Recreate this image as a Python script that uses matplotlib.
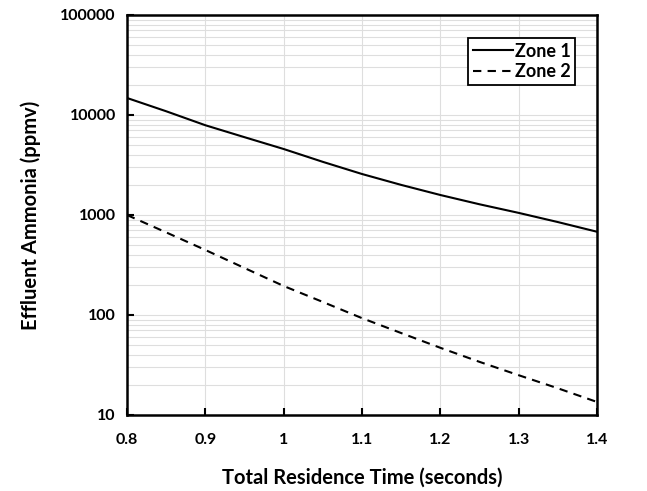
import numpy as np
import matplotlib.pyplot as plt
from matplotlib.ticker import LogLocator, FixedLocator, NullFormatter

plt.rcParams['font.family'] = ['Lato', 'DejaVu Sans']
plt.rcParams['font.weight'] = 'bold'

time_s = [0.8, 0.85, 0.9, 0.95, 1.0, 1.05, 1.1, 1.15, 1.2, 1.25, 1.3, 1.35, 1.4]
zone1 = [14800, 10900, 7900, 6000, 4570, 3400, 2570, 2000, 1585, 1280, 1050, 850, 680]
zone2 = [1000, 670, 447, 295, 195, 135, 93, 66, 47, 34, 25, 18.5, 13.5]
x_ticks = [0.8, 0.9, 1.0, 1.1, 1.2, 1.3, 1.4]
x_labels = ['0.8', '0.9', '1', '1.1', '1.2', '1.3', '1.4']
y_ticks = [10, 100, 1000, 10000, 100000]

fig = plt.figure(figsize=(6.47, 4.91), dpi=100)
ax = fig.add_axes([127 / 647, 1 - 415 / 491, 470 / 647, 400 / 491])

ax.plot(time_s, zone1, color='black', lw=1.5, label='Zone 1')
ax.plot(time_s, zone2, color='black', lw=1.5, ls=(0, (4, 3)), label='Zone 2')

ax.set_yscale('log')
ax.set_xlim(0.8, 1.4)
ax.set_ylim(10, 100000)
ax.set_xticks(x_ticks)
ax.set_xticklabels(x_labels)
ax.yaxis.set_major_locator(FixedLocator(y_ticks))
ax.set_yticklabels([str(v) for v in y_ticks])
ax.yaxis.set_minor_locator(LogLocator(base=10, subs=np.arange(2, 10)))
ax.yaxis.set_minor_formatter(NullFormatter())

ax.grid(True, which='major', color='#dedede', lw=0.8)
ax.grid(True, which='minor', axis='y', color='#dedede', lw=0.8)
ax.set_axisbelow(True)

ax.tick_params(axis='both', which='major', direction='in', length=5, width=1.5,
               labelsize=11.5, pad=8)
ax.tick_params(axis='y', which='minor', length=0)
ax.tick_params(axis='x', pad=13)
for sp in ax.spines.values():
    sp.set_linewidth(1.8)
    sp.set_color('black')

ax.set_xlabel('Total Residence Time (seconds)', fontsize=14.5, fontweight='bold', labelpad=15)
ax.set_ylabel('Effluent Ammonia (ppmv)', fontsize=14.5, fontweight='bold', labelpad=14)

leg = ax.legend(loc='upper right', bbox_to_anchor=(0.953, 0.9425), fontsize=13,
                handlelength=2.2, handletextpad=0.1, borderpad=0.25,
                labelspacing=0.2, fancybox=False, framealpha=1, borderaxespad=0)
leg.get_frame().set_edgecolor('black')
leg.get_frame().set_linewidth(1.3)

fig.savefig('out.png', dpi=100)
